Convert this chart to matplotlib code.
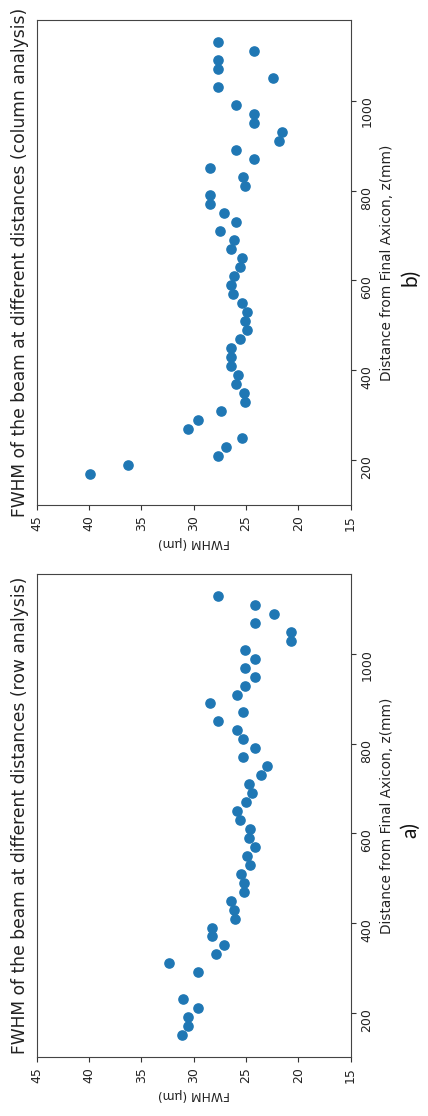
import matplotlib
matplotlib.use("Agg")
import matplotlib.pyplot as plt

# Panel a) row analysis
dist_row = [150, 170, 190, 210, 230, 290, 310, 330, 350, 370, 390, 410, 430, 450,
            470, 490, 510, 530, 550, 570, 590, 610, 630, 650, 670, 690, 710, 730,
            750, 770, 790, 810, 830, 850, 870, 890, 910, 930, 950, 970, 990, 1010,
            1030, 1050, 1070, 1090, 1110, 1130]
fwhm_row = [31.1, 30.55, 30.55, 29.55, 31.0, 29.55, 32.35, 27.9, 27.05, 28.2, 28.2,
            26.0, 26.15, 26.4, 25.15, 25.15, 25.45, 24.6, 24.85, 24.15, 24.75, 24.6,
            25.6, 25.85, 25.0, 24.45, 24.75, 23.6, 22.95, 25.3, 24.15, 25.3, 25.85,
            27.65, 25.3, 28.45, 25.85, 25.05, 24.15, 25.05, 24.15, 25.05, 20.7, 20.7,
            24.15, 22.35, 24.15, 27.65]

# Panel b) column analysis
dist_col = [170, 190, 210, 230, 250, 270, 290, 310, 330, 350, 370, 390, 410, 430,
            450, 470, 490, 510, 530, 550, 570, 590, 610, 630, 650, 670, 690, 710,
            730, 750, 770, 790, 810, 830, 850, 870, 890, 910, 930, 950, 970, 990,
            1030, 1050, 1070, 1090, 1110, 1130]
fwhm_col = [39.95, 36.25, 27.65, 26.95, 25.35, 30.55, 29.6, 27.35, 25.05, 25.2, 25.9,
            25.75, 26.4, 26.4, 26.4, 25.55, 24.9, 25.05, 24.9, 25.35, 26.25, 26.4,
            26.15, 25.55, 25.35, 26.4, 26.15, 27.5, 25.9, 27.05, 28.45, 28.45, 25.05,
            25.3, 28.45, 24.2, 25.9, 21.8, 21.55, 24.2, 24.2, 25.9, 27.65, 22.4,
            27.65, 27.65, 24.2, 27.65]

titles = ["FWHM of the beam at different distances (row analysis)",
          "FWHM of the beam at different distances (column analysis)"]
tags = ["a)", "b)"]

W, H = 428, 1116
fig = plt.figure(figsize=(W / 100, H / 100), dpi=100)

def rect(l, r, b, t):
    return [l / W, 1 - b / H, (r - l) / W, (b - t) / H]

axes = [fig.add_axes(rect(36.7, 350.5, 1057, 574)),
        fig.add_axes(rect(36.7, 350.5, 505, 20))]
data = [(fwhm_row, dist_row), (fwhm_col, dist_col)]

for ax, (fw, ds), title, tag in zip(axes, data, titles, tags):
    ax.scatter(fw, ds, s=44, color="#1f77b4", zorder=3)
    ax.set_xlim(45, 15)
    ax.set_ylim(101, 1179)
    ax.set_xticks([45, 40, 35, 30, 25, 20, 15])
    ax.set_yticks([200, 400, 600, 800, 1000])
    ax.yaxis.tick_right()
    ax.yaxis.set_label_position("right")
    ax.tick_params(axis="both", labelsize=9, labelrotation=90, color="#333333",
                   labelcolor="#222222")
    for sp in ax.spines.values():
        sp.set_color("#444444")
    ax.set_xlabel("FWHM (μm)", rotation=180, fontsize=8.8, color="#222222", labelpad=4)
    ax.set_ylabel("Distance from Final Axicon, z(mm)", rotation=90, fontsize=9.8,
                  color="#222222", labelpad=5)
    ax.text(-0.052, 0.5, title, transform=ax.transAxes, rotation=90,
            ha="center", va="center", fontsize=12.3, color="#222222")
    ax.text(1.19, 0.47, tag, transform=ax.transAxes, rotation=90,
            ha="center", va="center", fontsize=15, family="Lato", color="#111111")

fig.savefig("out.png", dpi=100)
